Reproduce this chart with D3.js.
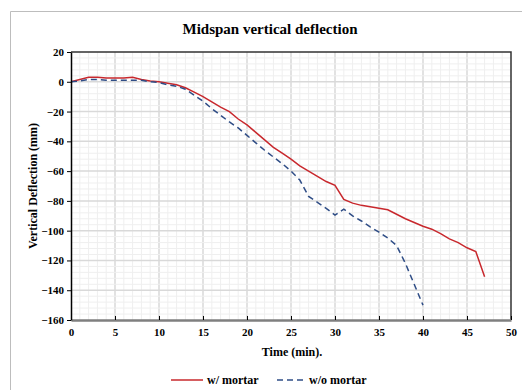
<!DOCTYPE html>
<html>
<head>
<meta charset="utf-8">
<script src="https://cdn.jsdelivr.net/npm/d3@7"></script>
<style>
  body { margin: 0; background: #fff; }
</style>
</head>
<body>
<script>
// data
var time_min = [0, 1, 2, 3, 4, 5, 6, 7, 8, 9, 10, 11, 12, 13, 14, 15, 16, 17, 18, 19, 20,
                21, 22, 23, 24, 25, 26, 27, 28, 29, 30, 31, 32, 33, 34, 35, 36, 37, 38, 39,
                40, 41, 42, 43, 44, 45, 46, 47] ;
var with_mortar = [0, 1.5, 3, 3, 2.5, 2.5, 2.5, 3, 1.5, 0.5, 0, -1, -2, -4, -7, -10, -13.5, -17, -20, -25, -29,
                   -34, -39, -44, -48, -52, -56.5, -60, -63.5, -67, -69.5, -79, -81.5, -83, -84, -85, -86, -89, -92, -94.5,
                   -97, -99, -102, -105.5, -108, -111.5, -114, -131] ;
var without_mortar = [0, 0.5, 1.5, 1.5, 1, 1, 1, 1, 1, 0, -0.5, -2, -3, -5, -9, -13, -18, -22.5, -27, -31, -36,
                      -41, -46, -50.5, -55, -60, -66, -77, -81, -85, -89.5, -85.5, -90, -93.5, -97.5, -101, -105, -110, -122, -136,
                      -150] ;
var x_ticks = [0, 5, 10, 15, 20, 25, 30, 35, 40, 45, 50] ;
var y_ticks = [20, 0, -20, -40, -60, -80, -100, -120, -140, -160] ;
var series_names = ["w/ mortar", "w/o mortar"] ;

var W = 522, H = 390 ;
var plot = {left: 71, right: 511, top: 52, bottom: 320} ;
var serif = "'Liberation Serif', 'Times New Roman', 'DejaVu Serif', serif" ;

var svg = d3.select("body").append("svg")
    .attr("width", W).attr("height", H) ;

// outer frame (only top and left visible)
svg.append("path")
    .attr("d", "M10.5,390 V11.5 H522")
    .attr("fill", "none").attr("stroke", "#bdbdbd").attr("stroke-width", 1) ;

var x = d3.scaleLinear().domain([0, 50]).range([plot.left, plot.right]) ;
var y = d3.scaleLinear().domain([-160, 20]).range([plot.bottom, plot.top]) ;

// grid: minor then major
var grid = svg.append("g") ;
grid.selectAll(".vx").data(d3.range(1, 50)).enter().append("line")
    .attr("x1", d => x(d)).attr("x2", d => x(d))
    .attr("y1", plot.top).attr("y2", plot.bottom)
    .attr("stroke", d => d % 5 == 0 ? "#d9d9d9" : "#efefef")
    .attr("stroke-width", d => d % 5 == 0 ? 1.5 : 1) ;
grid.selectAll(".hy").data(d3.range(-156, 20, 4)).enter().append("line")
    .attr("y1", d => y(d)).attr("y2", d => y(d))
    .attr("x1", plot.left).attr("x2", plot.right)
    .attr("stroke", d => d % 20 == 0 ? "#d9d9d9" : "#efefef")
    .attr("stroke-width", d => d % 20 == 0 ? 1.5 : 1) ;

// top & right border
svg.append("path")
    .attr("d", "M" + plot.left + "," + plot.top + " H" + plot.right + " V" + plot.bottom)
    .attr("fill", "none").attr("stroke", "#333").attr("stroke-width", 1.5) ;

// series
var line = d3.line()
    .x((d, i) => x(time_min[i]))
    .y(d => y(d)) ;

svg.append("path").datum(with_mortar)
    .attr("d", line)
    .attr("fill", "none").attr("stroke", "#c8282d").attr("stroke-width", 1.5) ;
svg.append("path").datum(without_mortar)
    .attr("d", line)
    .attr("fill", "none").attr("stroke", "#2f4d86").attr("stroke-width", 1.5)
    .attr("stroke-dasharray", "6,4") ;

// x axis
var gx = svg.append("g")
    .attr("transform", "translate(0," + plot.bottom + ")")
    .call(d3.axisBottom(x).tickValues(x_ticks).tickSizeInner(-4).tickSizeOuter(0).tickPadding(8)) ;
gx.select(".domain").attr("stroke", "#7f7f7f").attr("stroke-width", 2.5) ;
gx.selectAll(".tick line").attr("stroke", "#000") ;
gx.selectAll("text").attr("font-size", 11) ;

// y axis
var gy = svg.append("g")
    .attr("transform", "translate(" + plot.left + ",0)")
    .call(d3.axisLeft(y).tickValues(y_ticks).tickSize(4).tickSizeOuter(0).tickPadding(3)) ;
gy.select(".domain").attr("stroke", "#000").attr("stroke-width", 1.5) ;
gy.selectAll(".tick line").attr("stroke", "#000") ;
gy.selectAll("text").attr("font-size", 11) ;

// labels
svg.append("text")
    .attr("x", 270).attr("y", 34)
    .attr("text-anchor", "middle").attr("font-size", 15)
    .text("Midspan vertical deflection") ;
svg.append("text")
    .attr("x", 292).attr("y", 356)
    .attr("text-anchor", "middle").attr("font-size", 12)
    .text("Time (min).") ;
svg.append("text")
    .attr("transform", "translate(37," + (plot.top + plot.bottom) / 2 + ") rotate(-90)")
    .attr("text-anchor", "middle").attr("font-size", 12)
    .text("Vertical Deflection (mm)") ;

// legend
var lg = svg.append("g").attr("transform", "translate(0,380)") ;
lg.append("line").attr("x1", 171).attr("x2", 203).attr("y1", 0).attr("y2", 0)
    .attr("stroke", "#c8282d").attr("stroke-width", 1.5) ;
lg.append("text").attr("x", 207).attr("y", 4).attr("font-size", 12).text(series_names[0]) ;
lg.append("line").attr("x1", 277).attr("x2", 307).attr("y1", 0).attr("y2", 0)
    .attr("stroke", "#2f4d86").attr("stroke-width", 1.5).attr("stroke-dasharray", "6,4") ;
lg.append("text").attr("x", 309).attr("y", 4).attr("font-size", 12).text(series_names[1]) ;

// every text in Times-like bold
svg.selectAll("text")
    .style("font-family", serif)
    .style("font-weight", "bold")
    .attr("fill", "#000") ;
</script>
</body>
</html>
